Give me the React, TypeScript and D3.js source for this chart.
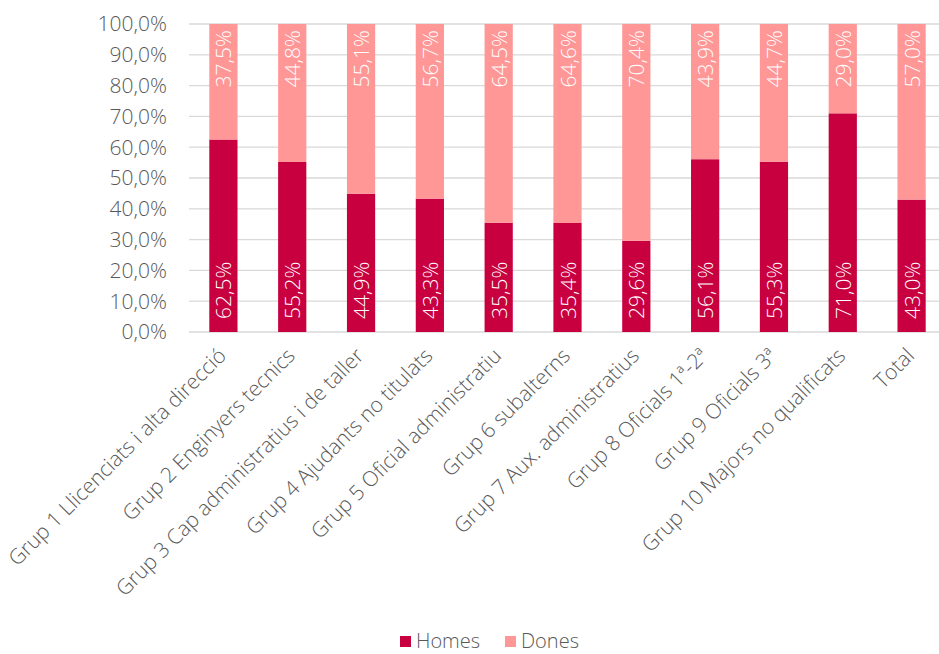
import { useEffect, useRef } from 'react';
import * as d3 from 'd3';

const categories = [
  'Grup 1 Llicenciats i alta direcció',
  'Grup 2 Enginyers tecnics',
  'Grup 3 Cap administratius i de taller',
  'Grup 4 Ajudants no titulats',
  'Grup 5 Oficial administratiu',
  'Grup 6 subalterns',
  'Grup 7 Aux. administratius',
  'Grup 8 Oficials 1ª-2ª',
  'Grup 9 Oficials 3ª',
  'Grup 10 Majors no qualificats',
  'Total',
];
const homes = [62.5, 55.2, 44.9, 43.3, 35.5, 35.4, 29.6, 56.1, 55.3, 71.0, 43.0];
const dones = [37.5, 44.8, 55.1, 56.7, 64.5, 64.6, 70.4, 43.9, 44.7, 29.0, 57.0];
const yTicks = [0, 10, 20, 30, 40, 50, 60, 70, 80, 90, 100];

const HOMES_COLOR = '#C9003F';
const DONES_COLOR = '#FF9797';
const FONT = '"Open Sans", Lato, sans-serif';

const fmt = (v: number) => v.toFixed(1).replace('.', ',') + '%';

export default function App() {
  const svgRef = useRef<SVGSVGElement>(null);

  useEffect(() => {
    if (!svgRef.current) return;
    const svg = d3.select(svgRef.current);
    svg.selectAll('*').remove();

    const left = 189;
    const right = 946;
    const top = 24;
    const bottom = 332;

    const x = d3.scaleBand().domain(categories).range([left, right]).paddingInner(0.59).paddingOuter(0.295);
    const y = d3.scaleLinear().domain([0, 100]).range([bottom, top]);

    // grid
    svg
      .append('g')
      .selectAll('line')
      .data(yTicks)
      .enter()
      .append('line')
      .attr('x1', left)
      .attr('x2', right)
      .attr('y1', (d) => y(d))
      .attr('y2', (d) => y(d))
      .attr('stroke', '#D9D9D9')
      .attr('stroke-width', 1.3);

    // y labels
    svg
      .append('g')
      .selectAll('text')
      .data(yTicks)
      .enter()
      .append('text')
      .attr('x', 167)
      .attr('y', (d) => y(d))
      .attr('dy', '0.35em')
      .attr('text-anchor', 'end')
      .style('font-family', FONT)
      .style('font-weight', 300)
      .style('font-size', '21px')
      .style('fill', '#595959')
      .text((d) => fmt(d));

    const bw = x.bandwidth();

    // Homes bars
    svg
      .append('g')
      .selectAll('rect')
      .data(categories)
      .enter()
      .append('rect')
      .attr('x', (d) => x(d)!)
      .attr('width', bw)
      .attr('y', (d, i) => y(homes[i]))
      .attr('height', (d, i) => bottom - y(homes[i]))
      .attr('fill', HOMES_COLOR);

    // Dones bars
    svg
      .append('g')
      .selectAll('rect')
      .data(categories)
      .enter()
      .append('rect')
      .attr('x', (d) => x(d)!)
      .attr('width', bw)
      .attr('y', (d, i) => y(homes[i] + dones[i]))
      .attr('height', (d, i) => y(homes[i]) - y(homes[i] + dones[i]))
      .attr('fill', DONES_COLOR);

    // value labels
    const labelStyle = (sel: any) =>
      sel
        .style('font-family', FONT)
        .style('font-weight', 300)
        .style('font-size', '21px')
        .style('fill', '#fff')
        .attr('dominant-baseline', 'central');

    svg
      .append('g')
      .selectAll('text')
      .data(categories)
      .enter()
      .append('text')
      .attr('transform', (d) => `translate(${x(d)! + bw / 2},${bottom - 13}) rotate(-90)`)
      .attr('text-anchor', 'start')
      .call(labelStyle)
      .text((d, i) => fmt(homes[i]));

    svg
      .append('g')
      .selectAll('text')
      .data(categories)
      .enter()
      .append('text')
      .attr('transform', (d, i) => `translate(${x(d)! + bw / 2},${y(homes[i] + dones[i]) + 6}) rotate(-90)`)
      .attr('text-anchor', 'end')
      .call(labelStyle)
      .text((d, i) => fmt(dones[i]));

    // x labels
    svg
      .append('g')
      .selectAll('text')
      .data(categories)
      .enter()
      .append('text')
      .attr('transform', (d) => `translate(${x(d)! + bw / 2 + 4},${bottom + 25}) rotate(-45)`)
      .attr('text-anchor', 'end')
      .style('font-family', FONT)
      .style('font-weight', 300)
      .style('font-size', '21px')
      .style('fill', '#595959')
      .text((d) => d);

    // legend
    const legendItems = [
      { name: 'Homes', color: HOMES_COLOR, x: 400 },
      { name: 'Dones', color: DONES_COLOR, x: 505 },
    ];
    const lg = svg.append('g');
    legendItems.forEach((it) => {
      lg.append('rect').attr('x', it.x).attr('y', 636).attr('width', 11).attr('height', 11).attr('fill', it.color);
      lg.append('text')
        .attr('x', it.x + 16)
        .attr('y', 641)
        .attr('dy', '0.35em')
        .style('font-family', FONT)
        .style('font-weight', 300)
        .style('font-size', '20px')
        .style('fill', '#595959')
        .text(it.name);
    });
  }, []);

  return (
    <svg
      ref={svgRef}
      width={939}
      height={654}
      style={{ position: 'absolute', left: 0, top: 0, background: '#fff' }}
    />
  );
}
